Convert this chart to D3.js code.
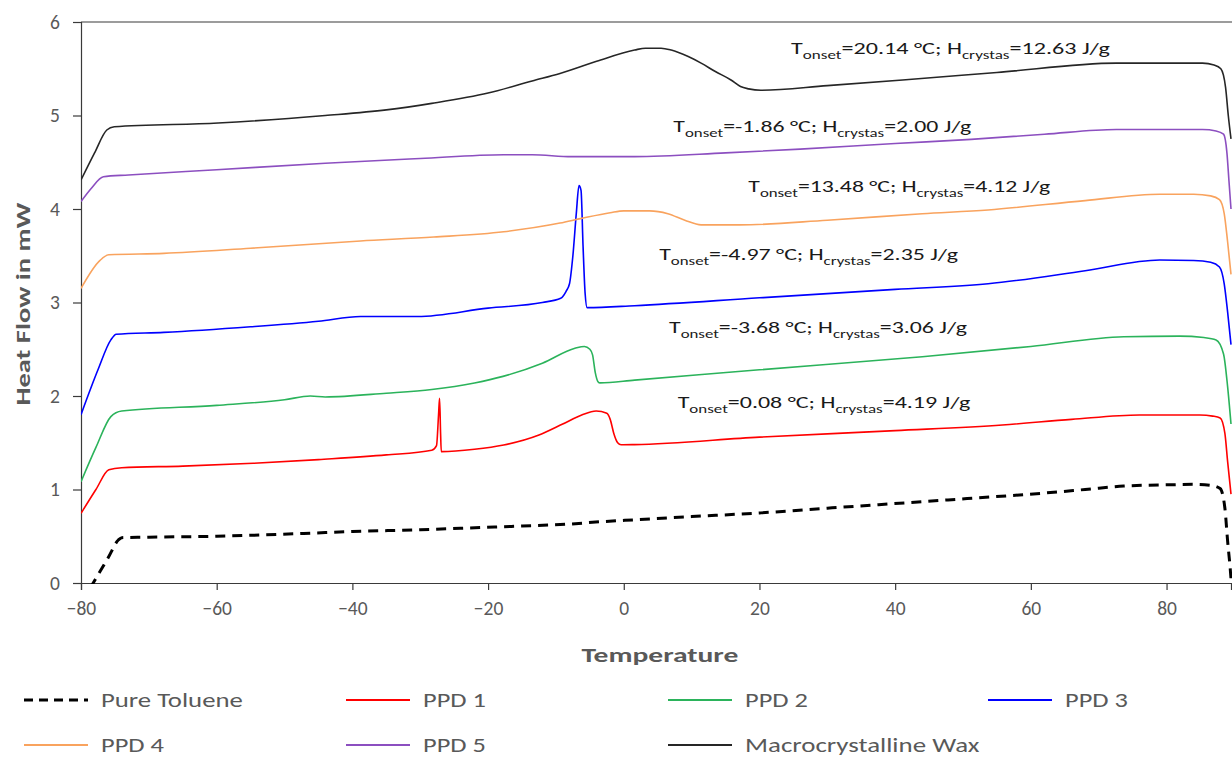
<!DOCTYPE html>
<html>
<head>
<meta charset="utf-8">
<script src="https://cdn.jsdelivr.net/npm/d3@7"></script>
<style>
  html, body { margin: 0; padding: 0; background: #fff; }
  svg { display: block; }
  text { font-family: "Liberation Sans Narrow", Carlito, Calibri, "Liberation Sans", sans-serif; }
</style>
</head>
<body>
<svg id="chart" width="1232" height="758"></svg>
<script>
// ---------------- DATA ----------------
const xTicks = [-80, -60, -40, -20, 0, 20, 40, 60, 80];
const yTicks = [0, 1, 2, 3, 4, 5, 6];

const seriesNames = ["Pure Toluene", "PPD 1", "PPD 2", "PPD 3", "PPD 4", "PPD 5", "Macrocrystalline Wax"];

// [temperature °C, heat flow mW]
const pureToluene = [
  [-78.6, -0.05], [-78.2, 0.0], [-76.0, 0.27], [-74.5, 0.46], [-74.0, 0.485], [-70, 0.49], [-60, 0.5],
  [-47.2, 0.53], [-40, 0.55], [-30, 0.57], [-24.1, 0.585], [-15, 0.61], [-8, 0.63], [-3.5, 0.655],
  [0.15, 0.67], [10, 0.71], [20.2, 0.75], [30, 0.8], [44, 0.87], [52, 0.91], [61.7, 0.96],
  [68, 1.0], [73.7, 1.037], [80, 1.05], [84.3, 1.055], [86.5, 1.045], [87.9, 1.01], [88.6, 0.8],
  [89.0, 0.45], [89.4, 0.14], [89.6, -0.05]
];
const ppd1 = [
  [-80, 0.745], [-77.8, 1.0], [-75.9, 1.21], [-74, 1.233], [-65, 1.25], [-54.6, 1.28], [-45, 1.32],
  [-35, 1.37], [-28.3, 1.42], [-27.6, 1.47], [-27.3, 1.8], [-27.15, 1.975], [-27.0, 1.6], [-26.9, 1.405],
  [-22, 1.43], [-17.7, 1.476], [-12.5, 1.583], [-9, 1.7], [-6.2, 1.797], [-4.07, 1.84], [-2.5, 1.815],
  [-2.0, 1.75], [-1.47, 1.6], [-0.9, 1.5], [-0.4, 1.478], [1.6, 1.48], [20, 1.56], [40, 1.63],
  [55.8, 1.69], [66, 1.75], [76, 1.797], [84.9, 1.797], [86.8, 1.785], [87.9, 1.765], [88.6, 1.6],
  [89.0, 1.3], [89.5, 0.95]
];
const ppd2 = [
  [-80, 1.083], [-77.8, 1.45], [-75.6, 1.78], [-74, 1.84], [-60, 1.9], [-50, 1.96], [-46.2, 2.0],
  [-44, 1.99], [-35, 2.03], [-28.3, 2.07], [-22, 2.14], [-17.8, 2.21], [-12, 2.35], [-7.2, 2.51],
  [-5.8, 2.53], [-5.0, 2.5], [-4.6, 2.44], [-4.2, 2.25], [-3.8, 2.153], [-3.5, 2.14], [1.6, 2.17],
  [20, 2.28], [44, 2.42], [60, 2.53], [73.7, 2.634], [81.9, 2.64], [85.5, 2.625], [87.3, 2.6],
  [88.4, 2.45], [89.0, 2.1], [89.5, 1.7]
];
const ppd3 = [
  [-80, 1.8], [-77.5, 2.28], [-75.6, 2.6], [-74.8, 2.66], [-67.8, 2.68], [-55, 2.74], [-45, 2.8],
  [-38.8, 2.85], [-30.4, 2.85], [-20, 2.94], [-12, 3.0], [-9.3, 3.045], [-8.5, 3.12], [-8.0, 3.2],
  [-7.5, 3.5], [-7.0, 3.95], [-6.6, 4.25], [-6.3, 4.2], [-6.0, 3.6], [-5.7, 3.1], [-5.4, 2.945],
  [1.6, 2.966], [20, 3.05], [40, 3.14], [53.7, 3.2], [68, 3.34], [79, 3.455], [84, 3.45],
  [86.5, 3.43], [87.8, 3.38], [88.5, 3.2], [89.0, 2.9], [89.5, 2.55]
];
const ppd4 = [
  [-80, 3.15], [-77.2, 3.45], [-75.9, 3.51], [-67.8, 3.525], [-55, 3.58], [-38.8, 3.658], [-28, 3.7],
  [-17.7, 3.757], [-9.4, 3.85], [-6.2, 3.9], [-2, 3.96], [0, 3.98], [3.8, 3.98], [6.5, 3.95],
  [9, 3.88], [11.4, 3.83], [17.1, 3.83], [30, 3.88], [44, 3.95], [53.7, 3.99], [68, 4.09],
  [79, 4.157], [84, 4.157], [86.5, 4.14], [87.8, 4.1], [88.5, 3.95], [89.0, 3.65], [89.5, 3.3]
];
const ppd5 = [
  [-80, 4.08], [-78.5, 4.22], [-76.7, 4.345], [-73, 4.364], [-60, 4.42], [-44, 4.49], [-30, 4.54],
  [-17.7, 4.58], [-13.5, 4.58], [-7.7, 4.56], [1.6, 4.56], [15, 4.6], [26, 4.64], [40, 4.7],
  [51.2, 4.745], [62, 4.8], [72.6, 4.85], [85.3, 4.85], [87.3, 4.835], [88.4, 4.8], [88.9, 4.6],
  [89.2, 4.3], [89.5, 4.0]
];
const macroWax = [
  [-80, 4.31], [-78, 4.6], [-76.2, 4.845], [-75.1, 4.88], [-59.8, 4.92], [-44, 5.0], [-35, 5.06],
  [-28.3, 5.13], [-20, 5.24], [-13.5, 5.37], [-9.4, 5.45], [-4, 5.58], [1.6, 5.7], [3.2, 5.72],
  [5.5, 5.72], [7, 5.70], [9.5, 5.63], [11.4, 5.56], [13.5, 5.47], [15.8, 5.38], [17.2, 5.31],
  [18.4, 5.285], [20.2, 5.27], [30, 5.32], [41.1, 5.38], [55, 5.46], [72.6, 5.56], [85.3, 5.56],
  [87, 5.54], [88, 5.5], [88.7, 5.3], [89.1, 5.0], [89.5, 4.75]
];
const seriesData = [pureToluene, ppd1, ppd2, ppd3, ppd4, ppd5, macroWax];

const annotationOnset = ["20.14", "-1.86", "13.48", "-4.97", "-3.68", "0.08"];
const annotationEnthalpy = ["12.63", "2.00", "4.12", "2.35", "3.06", "4.19"];
// anchor of each annotation in data units [temperature, heat flow]
const annotationAnchor = [[24.66, 5.658], [7.31, 4.824], [18.36, 4.182], [5.22, 3.455], [6.67, 2.674], [7.94, 1.872]];
const annotationWidth = [319, 298, 302, 299, 298, 293];

// ---------------- STYLE ----------------
const colors = ["#000000", "#ff0000", "#2bb35b", "#0000ff", "#f9a35e", "#8c4fc0", "#262626"];
const widths = [3, 1.6, 1.6, 1.6, 1.6, 1.6, 1.6];
const dashes = ["10,7", null, null, null, null, null, null];
const textGray = "#595959";

// ---------------- CHART ----------------
const svg = d3.select("#chart");
const x = d3.scaleLinear().domain([-80, 89.5]).range([81, 1231]);
const y = d3.scaleLinear().domain([0, 6]).range([583, 22]);

// fit text horizontally to target width
function fit(sel, tx, ty, w, anchor) {
  const node = sel.node();
  const bw = node.getBBox().width;
  const k = w / bw;
  let dx = 0;
  if (anchor === "middle") dx = -w / 2;
  sel.attr("transform", `translate(${tx + dx},${ty}) scale(${k},1)`);
}

// clip
svg.append("clipPath").attr("id", "plotclip")
  .append("rect").attr("x", 81).attr("y", 20).attr("width", 1151).attr("height", 564);

// top border
svg.append("line").attr("x1", 81).attr("x2", 1232).attr("y1", 22).attr("y2", 22)
  .attr("stroke", "#3a3a3a").attr("stroke-width", 1.2);

// axes
const xAxis = svg.append("g").attr("transform", "translate(0,583)")
  .call(d3.axisBottom(x).tickValues(xTicks).tickSize(7).tickPadding(11).tickFormat(d3.format("d")));
xAxis.select(".domain").attr("stroke", "#3a3a3a").attr("stroke-width", 1.2);
xAxis.selectAll(".tick line").attr("stroke", "#3a3a3a").attr("stroke-width", 1.2);
xAxis.selectAll(".tick text").attr("fill", textGray).attr("font-size", 19.5).style("font-family", null);

const yAxis = svg.append("g").attr("transform", "translate(81,0)")
  .call(d3.axisLeft(y).tickValues(yTicks).tickSize(8).tickPadding(13).tickFormat(d3.format("d")));
yAxis.select(".domain").attr("stroke", "#3a3a3a").attr("stroke-width", 1.2);
yAxis.selectAll(".tick line").attr("stroke", "#3a3a3a").attr("stroke-width", 1.2);
yAxis.selectAll(".tick text").attr("fill", textGray).attr("font-size", 19.5).style("font-family", null);
svg.selectAll(".domain, .tick text").attr("font-family", null);

// lines
const line = d3.line().x(d => x(d[0])).y(d => y(d[1])).curve(d3.curveMonotoneX);
const plot = svg.append("g").attr("clip-path", "url(#plotclip)");
seriesData.forEach((s, i) => {
  plot.append("path").datum(s)
    .attr("d", line)
    .attr("fill", "none")
    .attr("stroke", colors[i])
    .attr("stroke-width", widths[i])
    .attr("stroke-dasharray", dashes[i])
    .attr("stroke-linejoin", "round");
});

// annotations
annotationOnset.forEach((t, i) => {
  const txt = svg.append("text").attr("fill", "#1a1a1a").attr("font-size", 17);
  txt.append("tspan").text("T");
  txt.append("tspan").text("onset").attr("font-size", 12).attr("dy", 5);
  txt.append("tspan").text(`=${t} °C; H`).attr("dy", -5);
  txt.append("tspan").text("crystas").attr("font-size", 12).attr("dy", 5);
  txt.append("tspan").text(`=${annotationEnthalpy[i]} J/g`).attr("dy", -5);
  fit(txt, x(annotationAnchor[i][0]), y(annotationAnchor[i][1]), annotationWidth[i], "start");
});

// axis titles
const xt = svg.append("text").text("Temperature").attr("font-weight", "bold")
  .attr("font-size", 21).attr("fill", textGray);
fit(xt, 660, 662, 157, "middle");

const ytG = svg.append("g").attr("transform", "translate(30,304) rotate(-90)");
const yt = ytG.append("text").text("Heat Flow in mW").attr("font-weight", "bold")
  .attr("font-size", 21).attr("fill", textGray);
fit(yt, 0, 0, 203, "middle");

// legend
const legendPos = [[24, 700], [346, 700], [668, 700], [988, 700], [24, 745], [346, 745], [668, 745]];
const legendTextW = [142, 63, 63, 63, 63, 63, 235];
seriesNames.forEach((name, i) => {
  const [lx, ly] = legendPos[i];
  svg.append("line").attr("x1", lx).attr("x2", lx + 64).attr("y1", ly).attr("y2", ly)
    .attr("stroke", colors[i]).attr("stroke-width", i === 0 ? 3 : 2)
    .attr("stroke-dasharray", i === 0 ? "9,6" : null);
  const t = svg.append("text").text(name).attr("font-size", 20).attr("fill", textGray);
  fit(t, lx + 77, ly + 7, legendTextW[i], "start");
});
</script>
</body>
</html>
